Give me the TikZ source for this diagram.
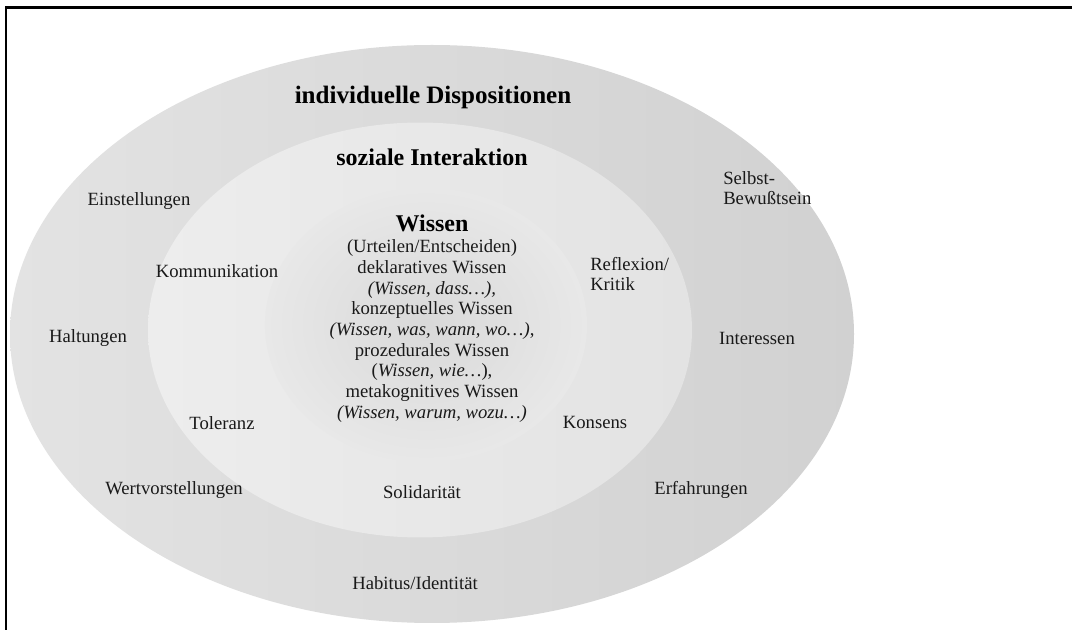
\documentclass[tikz,border=0pt]{standalone}
\usepackage{fontspec}
\setmainfont{Liberation Serif}
\begin{document}
\begin{tikzpicture}[x=0.75pt,y=-0.75pt,
  lbl/.style={inner sep=0pt,font=\fontsize{14}{15.5}\selectfont,text=black!90},
  ttl/.style={inner sep=0pt,font=\bfseries\fontsize{18.8}{21}\selectfont},
  ttlsmall/.style={inner sep=0pt,font=\bfseries\fontsize{18}{20}\selectfont}]
\useasboundingbox (0,0) rectangle (1072,630);
\fill[white] (0,0) rectangle (1072,630);

% three nested rings
\shade[left color=black!11,right color=black!18] (432,334) ellipse [x radius=316.5pt, y radius=216.75pt];
\shade[left color=black!7,right color=black!11] (420,330) ellipse [x radius=204pt, y radius=155.6pt];
\shade[inner color=black!15,outer color=black!9] (426,325) ellipse [x radius=120.8pt, y radius=102.8pt];

% frame
\draw[line width=1.8pt] (6,630) -- (6,7.5) -- (1072,7.5);

% outer ring
\node[ttl] (disp) at (433,97) {individuelle Dispositionen};
\node[lbl] (einst) at (139,201) {Einstellungen};
\node[lbl,align=left,anchor=west] (selbst) at (723,188) {Selbst-\\Bewußtsein};
\node[lbl] (halt) at (88,338) {Haltungen};
\node[lbl] (inter) at (757,338) {Interessen};
\node[lbl] (wert) at (174,490) {Wertvorstellungen};
\node[lbl] (erf) at (701,490) {Erfahrungen};
\node[lbl] (habitus) at (415,583) {Habitus/Identität};

% middle ring
\node[ttlsmall] (sozial) at (432,157) {soziale Interaktion};
\node[lbl] (komm) at (217,271) {Kommunikation};
\node[lbl,align=left,anchor=west] (refl) at (590,274) {Reflexion/\\Kritik};
\node[lbl] (tol) at (222,423) {Toleranz};
\node[lbl] (kons) at (595,422) {Konsens};
\node[lbl] (solid) at (422,492) {Solidarität};

% core
\node[ttlsmall] (wissen) at (432,223) {Wissen};
\node[lbl,align=center] (wissentext) at (432,331) {(Urteilen/Entscheiden)\\
deklaratives Wissen\\
\textit{(Wissen, dass…),}\\
konzeptuelles Wissen\\
\textit{(Wissen, was, wann, wo…)},\\
prozedurales Wissen\\
(\textit{Wissen, wie…}),\\
metakognitives Wissen\\
\textit{(Wissen, warum, wozu…)}};
\end{tikzpicture}
\end{document}
